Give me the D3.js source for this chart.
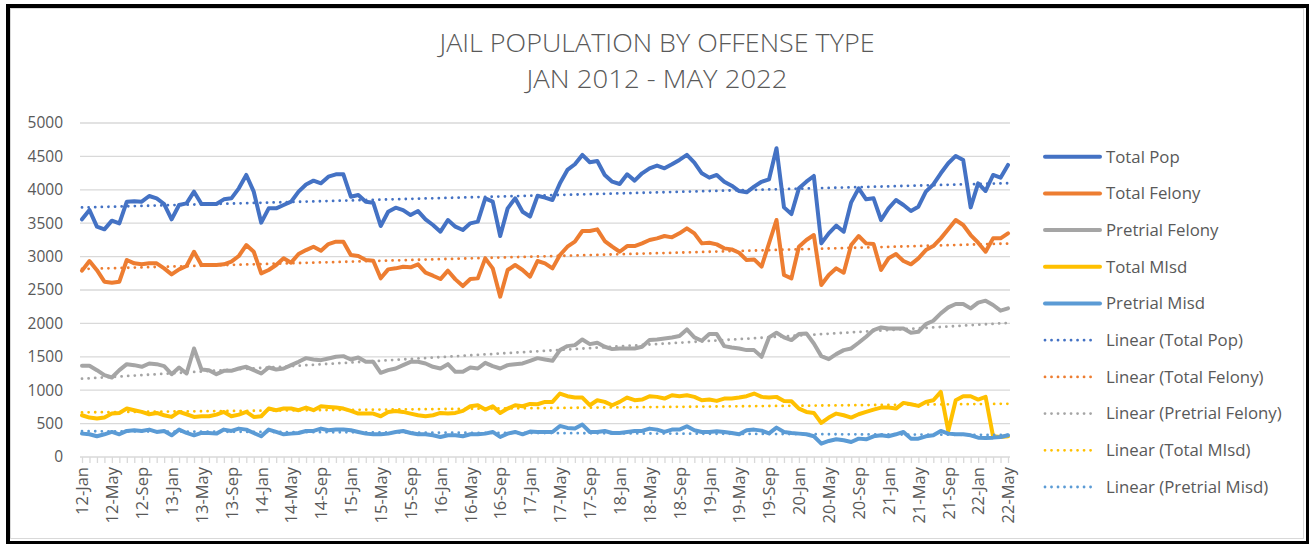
<!DOCTYPE html>
<html>
<head>
<meta charset="utf-8">
<script src="https://cdn.jsdelivr.net/npm/d3@7"></script>
<style>
  html, body { margin: 0; padding: 0; background: #fff; }
  svg { display: block; font-family: "Open Sans", "Liberation Sans", sans-serif; }
</style>
</head>
<body>
<div id="chart"></div>
<script>
// Jail population by offense type, monthly Jan 2012 - May 2022

const years = ['12', '13', '14', '15', '16', '17', '18', '19', '20', '21', '22'];
const monthNames = ['Jan', 'Feb', 'Mar', 'Apr', 'May', 'Jun', 'Jul', 'Aug', 'Sep', 'Oct', 'Nov', 'Dec'];
const tickLabels = ['12-Jan', '12-May', '12-Sep', '13-Jan', '13-May', '13-Sep', '14-Jan', '14-May', '14-Sep',
    '15-Jan', '15-May', '15-Sep', '16-Jan', '16-May', '16-Sep', '17-Jan', '17-May', '17-Sep', '18-Jan',
    '18-May', '18-Sep', '19-Jan', '19-May', '19-Sep', '20-Jan', '20-May', '20-Sep', '21-Jan', '21-May',
    '21-Sep', '22-Jan', '22-May'];
const yTicks = [0, 500, 1000, 1500, 2000, 2500, 3000, 3500, 4000, 4500, 5000];

const totalPop = [3558, 3698, 3448, 3408, 3538, 3498, 3822, 3830, 3822, 3907, 3872, 3787,
    3558, 3772, 3797, 3972, 3787, 3787, 3787, 3857, 3872, 4022, 4222, 3972,
    3508, 3722, 3722, 3772, 3822, 3972, 4080, 4137, 4097, 4197, 4232, 4232,
    3897, 3922, 3822, 3807, 3458, 3672, 3732, 3697, 3622, 3682, 3558, 3473,
    3373, 3548, 3448, 3398, 3498, 3523, 3872, 3822, 3308, 3722, 3872, 3672,
    3600, 3910, 3882, 3847, 4097, 4297, 4382, 4522, 4412, 4432, 4222, 4122,
    4087, 4232, 4137, 4247, 4322, 4362, 4322, 4382, 4447, 4522, 4407, 4247,
    4182, 4222, 4122, 4062, 3982, 3962, 4047, 4120, 4157, 4622, 3737, 3637,
    4022, 4122, 4207, 3198, 3348, 3463, 3373, 3812, 4022, 3857, 3872, 3548,
    3722, 3847, 3772, 3682, 3747, 3972, 4082, 4247, 4397, 4507, 4447, 3737,
    4097, 3982, 4222, 4182, 4372];

const totalFelony = [2790, 2934, 2797, 2625, 2610, 2625, 2949, 2899, 2884, 2899, 2899, 2824,
    2734, 2809, 2859, 3073, 2874, 2874, 2874, 2884, 2924, 3009, 3173, 3073,
    2749, 2799, 2874, 2974, 2909, 3038, 3098, 3148, 3088, 3188, 3223, 3223,
    3023, 3008, 2948, 2938, 2675, 2809, 2824, 2849, 2839, 2884, 2759, 2714,
    2664, 2789, 2659, 2559, 2664, 2674, 2974, 2824, 2400, 2799, 2874, 2799,
    2699, 2934, 2899, 2824, 3023, 3148, 3223, 3383, 3383, 3408, 3233, 3148,
    3073, 3158, 3158, 3198, 3248, 3273, 3308, 3288, 3348, 3423, 3348, 3198,
    3208, 3183, 3123, 3108, 3058, 2948, 2958, 2849, 3200, 3548, 2724, 2674,
    3148, 3248, 3323, 2574, 2724, 2824, 2759, 3173, 3308, 3198, 3188, 2799,
    2974, 3038, 2934, 2884, 2974, 3098, 3158, 3273, 3408, 3548, 3473, 3323,
    3208, 3073, 3273, 3273, 3348];

const pretrialFelony = [1365, 1365, 1300, 1225, 1190, 1300, 1390, 1375, 1350, 1400, 1390, 1360,
    1240, 1340, 1250, 1625, 1310, 1300, 1240, 1290, 1290, 1325, 1350, 1300,
    1250, 1340, 1310, 1325, 1375, 1425, 1480, 1460, 1450, 1475, 1500, 1510,
    1460, 1490, 1425, 1425, 1260, 1300, 1325, 1375, 1425, 1425, 1400, 1350,
    1325, 1390, 1275, 1275, 1340, 1325, 1410, 1360, 1325, 1375, 1390, 1400,
    1440, 1480, 1460, 1440, 1600, 1660, 1675, 1760, 1690, 1710, 1650, 1615,
    1625, 1625, 1625, 1650, 1750, 1760, 1775, 1790, 1810, 1910, 1790, 1740,
    1840, 1840, 1660, 1640, 1625, 1600, 1600, 1500, 1790, 1860, 1790, 1750,
    1840, 1850, 1700, 1510, 1465, 1540, 1600, 1625, 1710, 1800, 1900, 1940,
    1925, 1925, 1925, 1860, 1875, 1990, 2040, 2150, 2240, 2290, 2290, 2225,
    2310, 2340, 2275, 2190, 2225];

const totalMisd = [625, 590, 575, 590, 650, 660, 725, 700, 675, 640, 660, 625,
    600, 675, 640, 600, 610, 610, 635, 675, 610, 635, 675, 600,
    610, 725, 700, 725, 725, 700, 740, 700, 760, 750, 740, 725,
    690, 650, 650, 650, 610, 675, 690, 675, 650, 625, 610, 625,
    660, 650, 660, 690, 760, 775, 710, 760, 660, 725, 775, 760,
    795, 790, 825, 825, 950, 910, 890, 890, 775, 850, 825, 775,
    825, 890, 850, 860, 910, 900, 875, 925, 910, 925, 900, 850,
    860, 840, 875, 875, 890, 910, 950, 900, 890, 900, 840, 835,
    725, 675, 660, 510, 590, 650, 625, 590, 640, 675, 710, 740,
    740, 725, 810, 790, 765, 825, 850, 975, 390, 850, 910, 910,
    860, 900, 310, 300, 310];

const pretrialMisd = [350, 340, 310, 340, 375, 340, 390, 400, 390, 410, 375, 390,
    325, 410, 360, 325, 360, 360, 350, 410, 390, 425, 410, 360,
    310, 410, 375, 340, 350, 360, 390, 390, 425, 400, 410, 410,
    400, 375, 350, 340, 340, 350, 375, 390, 360, 340, 340, 325,
    300, 325, 325, 310, 340, 340, 350, 375, 300, 350, 375, 340,
    380, 375, 375, 375, 465, 435, 425, 485, 375, 375, 390, 360,
    360, 375, 390, 390, 425, 410, 375, 410, 410, 460, 400, 375,
    375, 385, 375, 360, 340, 400, 410, 395, 355, 440, 375, 360,
    350, 340, 310, 200, 240, 265, 250, 225, 275, 265, 310, 325,
    310, 340, 375, 275, 275, 310, 325, 390, 350, 340, 340, 325,
    290, 285, 290, 300, 325];

const seriesNames = ['Total Pop', 'Total Felony', 'Pretrial Felony', 'Total MIsd', 'Pretrial Misd'];
const seriesColors = ['#4472C4', '#ED7D31', '#A5A5A5', '#FFC000', '#5B9BD5'];
const trendNames = ['Linear (Total Pop)', 'Linear (Total Felony)', 'Linear (Pretrial Felony)',
    'Linear (Total MIsd)', 'Linear (Pretrial Misd)'];

// categories 12-Jan .. 22-May
const categories = [];
years.forEach((yr) => {
    monthNames.forEach((m) => {
        if (yr === '22' && monthNames.indexOf(m) > 4) return;
        categories.push(`${yr}-${m}`);
    });
});

const seriesValues = [totalPop, totalFelony, pretrialFelony, totalMisd, pretrialMisd];

// least squares fit over the month index, like Excel's linear trendline
function linearFit(values) {
    const n = values.length;
    const mx = d3.mean(values, (_, i) => i);
    const my = d3.mean(values);
    let sxy = 0, sxx = 0;
    values.forEach((v, i) => {
        sxy += (i - mx) * (v - my);
        sxx += (i - mx) * (i - mx);
    });
    const slope = sxy / sxx;
    const b = my - slope * mx;
    return [{ i: 0, v: b }, { i: n - 1, v: b + slope * (n - 1) }];
}

const W = 1309, H = 544;
const textColor = '#595959';
const gridColor = '#d9d9d9';

const svg = d3.select('#chart').append('svg')
    .attr('width', W)
    .attr('height', H);

// outer frame
svg.append('rect')
    .attr('x', 8).attr('y', 6)
    .attr('width', 1300).attr('height', 537)
    .attr('fill', '#fff')
    .attr('stroke', '#000')
    .attr('stroke-width', 4);
svg.append('rect')
    .attr('x', 10.5).attr('y', 8.5)
    .attr('width', 1293).attr('height', 530)
    .attr('fill', 'none')
    .attr('stroke', gridColor)
    .attr('stroke-width', 1);

// title
svg.append('text')
    .attr('x', 657).attr('y', 52)
    .attr('text-anchor', 'middle')
    .attr('font-size', 26)
    .attr('font-weight', 300)
    .attr('fill', textColor)
    .attr('textLength', 435)
    .attr('lengthAdjust', 'spacingAndGlyphs')
    .text('JAIL POPULATION BY OFFENSE TYPE');
svg.append('text')
    .attr('x', 657).attr('y', 88)
    .attr('text-anchor', 'middle')
    .attr('font-size', 26)
    .attr('font-weight', 300)
    .attr('fill', textColor)
    .attr('textLength', 261)
    .attr('lengthAdjust', 'spacingAndGlyphs')
    .text('JAN 2012 - MAY 2022');

const x = d3.scalePoint().domain(categories).range([82, 1008]);
const y = d3.scaleLinear().domain([0, 5000]).range([457, 123]);
const plotLeft = 80, plotRight = 1010;

// gridlines
svg.append('g')
    .selectAll('line')
    .data(yTicks.filter((t) => t > 0))
    .enter().append('line')
    .attr('x1', plotLeft).attr('x2', plotRight)
    .attr('y1', (d) => y(d)).attr('y2', (d) => y(d))
    .attr('stroke', gridColor)
    .attr('stroke-width', 1.3);

// y axis labels
const yAxis = svg.append('g')
    .attr('transform', `translate(${plotLeft - 17},0)`)
    .call(d3.axisLeft(y).tickValues(yTicks).tickFormat(d3.format('d')).tickSize(0).tickPadding(0));
yAxis.select('.domain').remove();
yAxis.selectAll('text')
    .attr('font-family', '"Open Sans", sans-serif')
    .attr('font-size', 15.5)
    .attr('fill', textColor);

// x axis: a tick each month, labels every 4 months
const xAxis = svg.append('g')
    .attr('transform', `translate(0,${y(0)})`)
    .call(d3.axisBottom(x).tickSize(6).tickFormat((d) => tickLabels.includes(d) ? d : ''));
xAxis.select('.domain')
    .attr('d', `M${plotLeft},0H${plotRight}`)
    .attr('stroke', gridColor)
    .attr('stroke-width', 1.3);
xAxis.selectAll('.tick line')
    .attr('stroke', gridColor)
    .attr('stroke-width', 1.3);
xAxis.selectAll('.tick text')
    .attr('font-family', '"Open Sans", sans-serif')
    .attr('font-size', 16.5)
    .attr('fill', textColor)
    .attr('text-anchor', 'end')
    .attr('dy', '0.35em')
    .attr('transform', 'translate(0,10) rotate(-90)')
    .attr('x', 0).attr('y', 0);

// series lines
const line = d3.line()
    .x((d, i) => x(categories[i]))
    .y((d) => y(d));

seriesValues.forEach((vals, k) => {
    svg.append('path')
        .datum(vals)
        .attr('d', line)
        .attr('fill', 'none')
        .attr('stroke', seriesColors[k])
        .attr('stroke-width', 4)
        .attr('stroke-linejoin', 'round')
        .attr('stroke-linecap', 'round');
});

// linear trendlines, dotted
const trendLine = d3.line()
    .x((d) => x(categories[d.i]))
    .y((d) => y(d.v));

seriesValues.forEach((vals, k) => {
    svg.append('path')
        .datum(linearFit(vals))
        .attr('d', trendLine)
        .attr('fill', 'none')
        .attr('stroke', seriesColors[k])
        .attr('stroke-width', 2.8)
        .attr('stroke-linecap', 'round')
        .attr('stroke-dasharray', '0.01 6.6');
});

// legend
const legendItems = seriesNames.map((name, k) => ({ name, color: seriesColors[k], dotted: false }))
    .concat(trendNames.map((name, k) => ({ name, color: seriesColors[k], dotted: true })));

const legend = svg.append('g')
    .selectAll('g')
    .data(legendItems)
    .enter().append('g')
    .attr('transform', (d, i) => `translate(0,${156.7 + i * 36.7})`);

legend.append('line')
    .attr('x1', 1045)
    .attr('x2', (d) => d.dotted ? 1097 : 1100)
    .attr('stroke', (d) => d.color)
    .attr('stroke-width', (d) => d.dotted ? 2.8 : 4)
    .attr('stroke-linecap', 'round')
    .attr('stroke-dasharray', (d) => d.dotted ? '0.01 6.5' : null);

legend.append('text')
    .attr('x', 1106)
    .attr('dy', '0.35em')
    .attr('font-size', 16.8)
    .attr('fill', textColor)
    .text((d) => d.name);
</script>
</body>
</html>
